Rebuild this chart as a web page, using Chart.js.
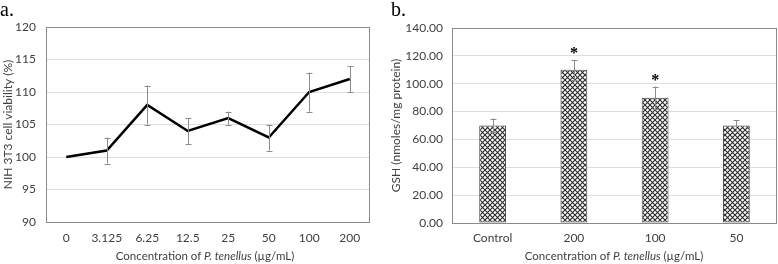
<!DOCTYPE html>
<html>
<head>
<meta charset="utf-8">
<script src="https://cdn.jsdelivr.net/npm/chart.js@4/dist/chart.umd.min.js"></script>
<style>
  body { margin: 0; background: #fff; }
  #wrap { position: relative; width: 778px; height: 264px; overflow: hidden; font-family: Lato, "Open Sans", sans-serif; }
  canvas { position: absolute; top: 0; }
  .panel { position: absolute; font-family: "Liberation Serif", "DejaVu Serif", serif; font-size: 20px; color: #000; top: -2px; }
  .xtitle { position: absolute; top: 249px; font-size: 11.5px; color: #404040; white-space: nowrap; transform: translateX(-50%); }
</style>
</head>
<body>
<div id="wrap">
  <canvas id="lineChart" width="385" height="264" style="left:0px"></canvas>
  <canvas id="barChart" width="393" height="264" style="left:385px"></canvas>
  <div class="panel" style="left:0px">a.</div>
  <div class="panel" style="left:391px">b.</div>
  <div class="xtitle" style="left:205px">Concentration of <i>P. tenellus</i> (µg/mL)</div>
  <div class="xtitle" style="left:614px">Concentration of <i>P. tenellus</i> (µg/mL)</div>
</div>
<script>
// panel a - cell viability
const concLabels = ['0', '3.125', '6.25', '12.5', '25', '50', '100', '200'];
const viability = [100, 101, 108, 104, 106, 103, 110, 112];
const viabilityErr = [0, 2, 3, 2, 1, 2, 3, 2];

// panel b - GSH
const gshLabels = ['Control', '200', '100', '50'];
const gshValues = [70, 110, 90, 70];
const gshErr = [5, 7, 8, 4];
const gshSig = ['', '*', '*', ''];

const tickFont = { family: 'Lato, "Open Sans", sans-serif', size: 12 };
const tickColor = '#404040';

// frame around plot area, error bars and significance marks
const extrasPlugin = {
    id: 'extras',
    beforeDatasetsDraw(chart) {
        const a = chart.chartArea;
        const ctx = chart.ctx;
        ctx.save();
        ctx.strokeStyle = '#8a8a8a';
        ctx.lineWidth = 1;
        ctx.strokeRect(Math.round(a.left) + 0.5, Math.round(a.top) + 0.5,
            Math.round(a.right - a.left) - 1, Math.round(a.bottom - a.top));
        ctx.restore();
    },
    afterDatasetsDraw(chart) {
        const opts = chart.options.plugins.extras || {};
        const errs = opts.errors || [];
        const marks = opts.marks || [];
        const meta = chart.getDatasetMeta(0);
        const y = chart.scales.y;
        const vals = chart.data.datasets[0].data;
        const ctx = chart.ctx;
        ctx.save();
        ctx.strokeStyle = '#8c8c8c';
        ctx.lineWidth = 1;
        meta.data.forEach((el, i) => {
            const e = errs[i] || 0;
            const x = Math.round(el.x) + 0.5;
            const top = y.getPixelForValue(vals[i] + e);
            const bot = y.getPixelForValue(vals[i] - e);
            if (e > 0) {
                ctx.beginPath();
                ctx.moveTo(x, top);
                ctx.lineTo(x, bot);
                ctx.moveTo(x - 3, Math.round(top) + 0.5);
                ctx.lineTo(x + 3, Math.round(top) + 0.5);
                ctx.moveTo(x - 3, Math.round(bot) + 0.5);
                ctx.lineTo(x + 3, Math.round(bot) + 0.5);
                ctx.stroke();
            }
            if (marks[i]) {
                ctx.fillStyle = '#000';
                ctx.font = 'bold 16px "Liberation Serif", serif';
                ctx.textAlign = 'center';
                ctx.textBaseline = 'middle';
                ctx.fillText(marks[i], el.x, top - 6);
            }
        });
        ctx.restore();
    }
};

function makeHatch() {
    const s = 5;
    const c = document.createElement('canvas');
    c.width = s;
    c.height = s;
    const g = c.getContext('2d');
    g.fillStyle = '#fff';
    g.fillRect(0, 0, s, s);
    g.strokeStyle = '#2a2a2a';
    g.lineWidth = 1.1;
    g.beginPath();
    g.moveTo(0, 0); g.lineTo(s, s);
    g.moveTo(s, 0); g.lineTo(0, s);
    g.stroke();
    return g.createPattern(c, 'repeat');
}

new Chart(document.getElementById('lineChart').getContext('2d'), {
    type: 'line',
    data: {
        labels: concLabels,
        datasets: [{
            data: viability,
            borderColor: '#000',
            borderWidth: 2.5,
            pointRadius: 0,
            tension: 0,
            fill: false
        }]
    },
    options: {
        responsive: false,
        animation: false,
        layout: { padding: { top: 27, right: 15, left: 0, bottom: 0 } },
        plugins: {
            legend: { display: false },
            tooltip: { enabled: false },
            extras: { errors: viabilityErr }
        },
        scales: {
            x: {
                offset: true,
                grid: { display: false, drawTicks: false },
                border: { display: false },
                ticks: { font: tickFont, color: tickColor, padding: 9, maxRotation: 0 },
                afterFit(s) { s.height = 42; }
            },
            y: {
                min: 90,
                max: 120,
                ticks: { stepSize: 5, font: tickFont, color: tickColor, padding: 10 },
                grid: { color: '#dedede', drawTicks: false },
                border: { display: false },
                title: {
                    display: true,
                    text: 'NIH 3T3 cell viability (%)',
                    font: tickFont,
                    color: tickColor,
                    padding: { top: 1, bottom: 0 }
                },
                afterFit(s) { s.width = 46; }
            }
        }
    },
    plugins: [extrasPlugin]
});

new Chart(document.getElementById('barChart').getContext('2d'), {
    type: 'bar',
    data: {
        labels: gshLabels,
        datasets: [{
            data: gshValues,
            backgroundColor: makeHatch(),
            borderColor: '#4a4a4a',
            borderWidth: 1,
            borderSkipped: false,
            barPercentage: 0.33,
            categoryPercentage: 1
        }]
    },
    options: {
        responsive: false,
        animation: false,
        layout: { padding: { top: 28, right: 1, left: 0, bottom: 0 } },
        plugins: {
            legend: { display: false },
            tooltip: { enabled: false },
            extras: { errors: gshErr, marks: gshSig }
        },
        scales: {
            x: {
                grid: { display: false, drawTicks: false },
                border: { display: false },
                ticks: { font: tickFont, color: tickColor, padding: 8, maxRotation: 0 },
                afterFit(s) { s.height = 41; }
            },
            y: {
                min: 0,
                max: 140,
                ticks: {
                    stepSize: 20, font: tickFont, color: tickColor, padding: 9,
                    callback: v => v.toFixed(2)
                },
                grid: { color: '#dedede', drawTicks: false },
                border: { display: false },
                title: {
                    display: true,
                    text: 'GSH (nmoles/mg protein)',
                    font: tickFont,
                    color: tickColor,
                    padding: { top: 4, bottom: 0 }
                },
                afterFit(s) { s.width = 67; }
            }
        }
    },
    plugins: [extrasPlugin]
});
</script>
</body>
</html>
